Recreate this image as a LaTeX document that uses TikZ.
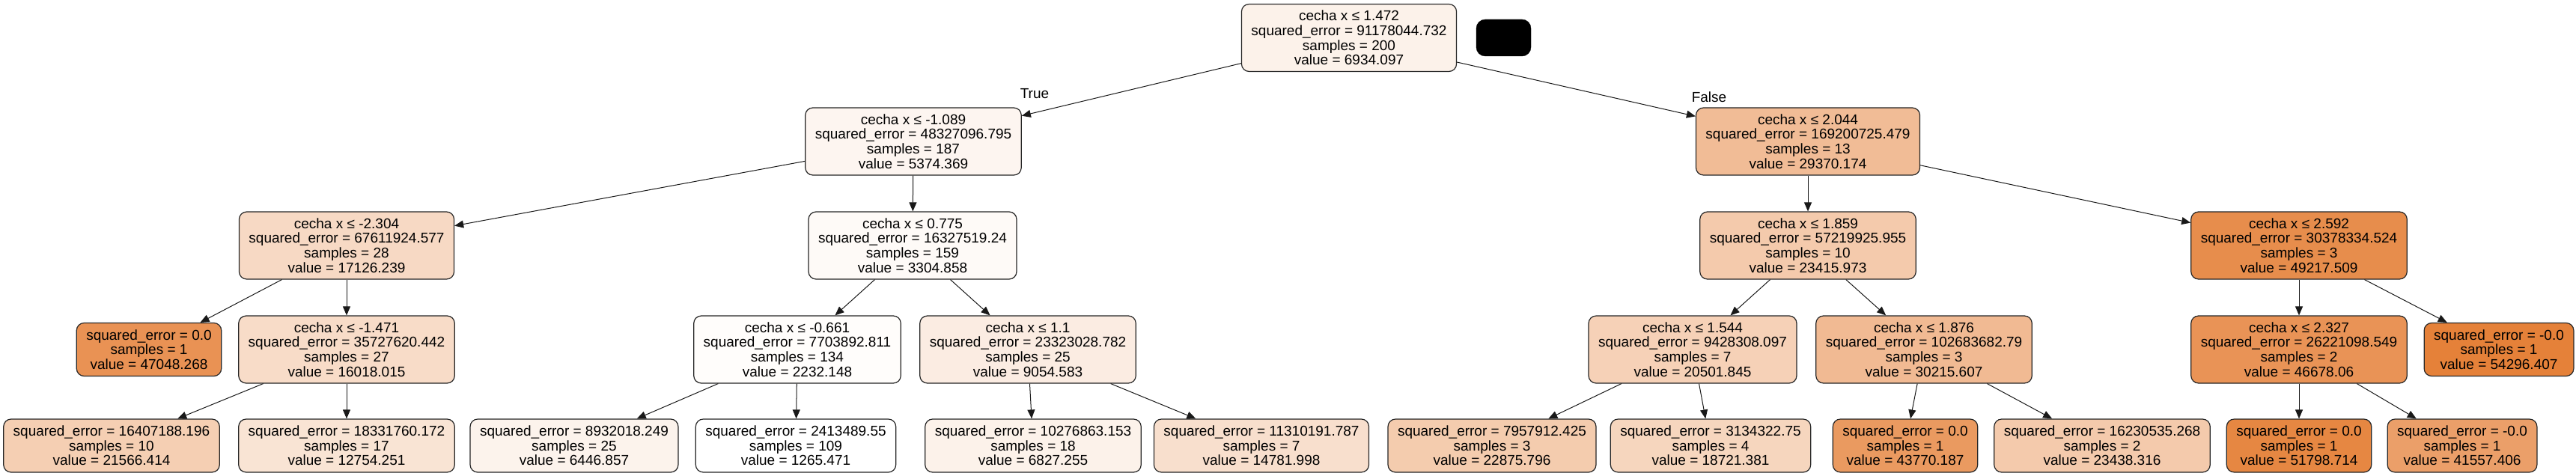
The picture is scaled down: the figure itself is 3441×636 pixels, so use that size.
\documentclass[tikz,border=0pt]{standalone}
\usepackage{fontspec}
\setmainfont{Liberation Sans}
\usetikzlibrary{arrows.meta,positioning}
\definecolor{skl}{RGB}{229,129,57}

\begin{document}
\begin{tikzpicture}[x=1pt,y=-1pt, every node/.style={font=\fontsize{19}{19.7}\selectfont},
	box/.style={draw=black!85,line width=1.2pt,rounded corners=10pt,align=center,inner xsep=13pt,inner ysep=0pt,fill=skl!#1},
	box/.default=0,
	splitbox/.style={box=#1,minimum height=90pt},
	leafbox/.style={box=#1,minimum height=71pt},
	arr/.style={-{Triangle[length=12pt,width=10pt]},line width=1pt,draw=black!90}]
	\useasboundingbox (0,0) rectangle (3441,636);
	
	% Radice
	\node[splitbox=10.7] (root) at (1802,50.5) {cecha x ≤ 1.472\\squared\_error = 91178044.732\\samples = 200\\value = 6934.097};
	\node[draw=black,fill=black,rounded corners=12pt,minimum width=73pt,minimum height=49pt] (blob) at (2008.5,50.5) {};
	
	% Livello 1
	\node[splitbox=7.7] (n1) at (1220,189) {cecha x ≤ -1.089\\squared\_error = 48327096.795\\samples = 187\\value = 5374.369};
	\node[splitbox=53] (nF) at (2415,189) {cecha x ≤ 2.044\\squared\_error = 169200725.479\\samples = 13\\value = 29370.174};
	
	% Livello 2
	\node[splitbox=29.9] (a) at (463,328) {cecha x ≤ -2.304\\squared\_error = 67611924.577\\samples = 28\\value = 17126.239};
	\node[splitbox=3.8] (b) at (1219,328) {cecha x ≤ 0.775\\squared\_error = 16327519.24\\samples = 159\\value = 3304.858};
	\node[splitbox=41.8] (c) at (2415,328) {cecha x ≤ 1.859\\squared\_error = 57219925.955\\samples = 10\\value = 23415.973};
	\node[splitbox=90.4] (d) at (3071,328) {cecha x ≤ 2.592\\squared\_error = 30378334.524\\samples = 3\\value = 49217.509};
	
	% Livello 3
	\node[leafbox=86.3] (aL) at (199,467) {squared\_error = 0.0\\samples = 1\\value = 47048.268};
	\node[splitbox=27.8] (aR) at (463,467) {cecha x ≤ -1.471\\squared\_error = 35727620.442\\samples = 27\\value = 16018.015};
	\node[splitbox=1.8] (bL) at (1065,467) {cecha x ≤ -0.661\\squared\_error = 7703892.811\\samples = 134\\value = 2232.148};
	\node[splitbox=14.7] (bR) at (1373,467) {cecha x ≤ 1.1\\squared\_error = 23323028.782\\samples = 25\\value = 9054.583};
	\node[splitbox=36.3] (cL) at (2261,467) {cecha x ≤ 1.544\\squared\_error = 9428308.097\\samples = 7\\value = 20501.845};
	\node[splitbox=54.6] (cR) at (2570,467) {cecha x ≤ 1.876\\squared\_error = 102683682.79\\samples = 3\\value = 30215.607};
	\node[splitbox=85.6] (dL) at (3071,467) {cecha x ≤ 2.327\\squared\_error = 26221098.549\\samples = 2\\value = 46678.06};
	\node[leafbox=100] (dR) at (3338,467) {squared\_error = -0.0\\samples = 1\\value = 54296.407};
	
	% Foglie
	\node[leafbox=38.3] (aRL) at (149,595.5) {squared\_error = 16407188.196\\samples = 10\\value = 21566.414};
	\node[leafbox=21.7] (aRR) at (463,595.5) {squared\_error = 18331760.172\\samples = 17\\value = 12754.251};
	\node[leafbox=9.8] (bLL) at (767,595.5) {squared\_error = 8932018.249\\samples = 25\\value = 6446.857};
	\node[leafbox=0] (bLR) at (1063,595.5) {squared\_error = 2413489.55\\samples = 109\\value = 1265.471};
	\node[leafbox=10.5] (bRL) at (1380,595.5) {squared\_error = 10276863.153\\samples = 18\\value = 6827.255};
	\node[leafbox=25.5] (bRR) at (1685,595.5) {squared\_error = 11310191.787\\samples = 7\\value = 14781.998};
	\node[leafbox=40.8] (cLL) at (1993,595.5) {squared\_error = 7957912.425\\samples = 3\\value = 22875.796};
	\node[leafbox=32.9] (cLR) at (2285,595.5) {squared\_error = 3134322.75\\samples = 4\\value = 18721.381};
	\node[leafbox=80.2] (cRL) at (2545,595.5) {squared\_error = 0.0\\samples = 1\\value = 43770.187};
	\node[leafbox=41.8] (cRR) at (2808,595.5) {squared\_error = 16230535.268\\samples = 2\\value = 23438.316};
	\node[leafbox=95.3] (dLL) at (3071,595.5) {squared\_error = 0.0\\samples = 1\\value = 51798.714};
	\node[leafbox=76] (dLR) at (3289,595.5) {squared\_error = -0.0\\samples = 1\\value = 41557.406};
	
	% Etichette
	\node (ltrue) at (1382,125) {True};
	\node (lfalse) at (2283,130) {False};
	
	% Frecce
	\draw[arr] (root) -- (n1);
	\draw[arr] (root) -- (nF);
	\draw[arr] (n1) -- (a);
	\draw[arr] (n1) -- (b);
	\draw[arr] (nF) -- (c);
	\draw[arr] (nF) -- (d);
	\draw[arr] (a) -- (aL);
	\draw[arr] (a) -- (aR);
	\draw[arr] (b) -- (bL);
	\draw[arr] (b) -- (bR);
	\draw[arr] (c) -- (cL);
	\draw[arr] (c) -- (cR);
	\draw[arr] (d) -- (dL);
	\draw[arr] (d) -- (dR);
	\draw[arr] (aR) -- (aRL);
	\draw[arr] (aR) -- (aRR);
	\draw[arr] (bL) -- (bLL);
	\draw[arr] (bL) -- (bLR);
	\draw[arr] (bR) -- (bRL);
	\draw[arr] (bR) -- (bRR);
	\draw[arr] (cL) -- (cLL);
	\draw[arr] (cL) -- (cLR);
	\draw[arr] (cR) -- (cRL);
	\draw[arr] (cR) -- (cRR);
	\draw[arr] (dL) -- (dLL);
	\draw[arr] (dL) -- (dLR);
\end{tikzpicture}
\end{document}
